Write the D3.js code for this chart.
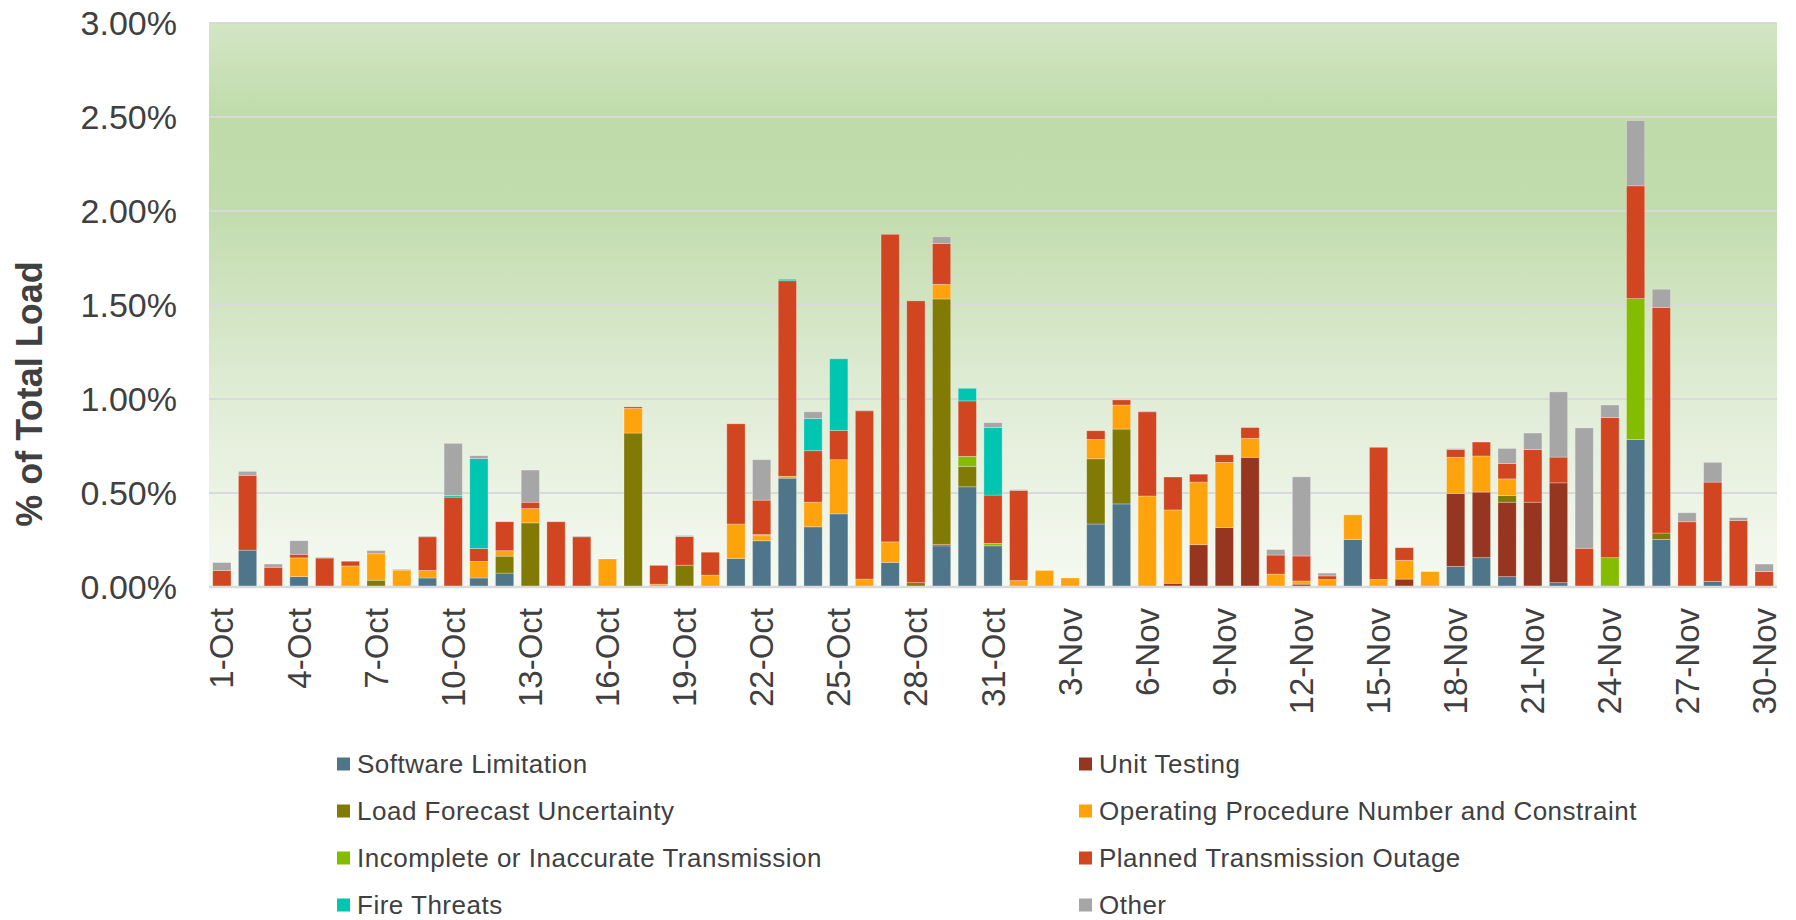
<!DOCTYPE html>
<html>
<head>
<meta charset="utf-8">
<script src="https://cdn.jsdelivr.net/npm/d3@7"></script>
<style>
  body { margin: 0; background: #fff; }
  text { font-family: "Liberation Sans", Arial, sans-serif; fill: #404040; }
</style>
</head>
<body>
<svg id="chart"></svg>
<script>
// day labels, 1-Oct .. 30-Nov
const days = [];
for (let i = 1; i <= 31; i++) days.push(i + "-Oct");
for (let i = 1; i <= 30; i++) days.push(i + "-Nov");

const seriesNames = [
  "Software Limitation", "Unit Testing", "Load Forecast Uncertainty",
  "Operating Procedure Number and Constraint", "Incomplete or Inaccurate Transmission",
  "Planned Transmission Outage", "Fire Threats", "Other"
];
const seriesColors = ["#4e7589", "#973620", "#817a05", "#ffa30d", "#84bc00", "#d14520", "#00c6b1", "#a6a6a6"];

// values in % of total load, one per day
const software = [0,0.196,0,0.055,0,0,0,0,0.048,0,0.048,0.074,0,0,0,0,0,0,0,0,0.152,0.246,0.579,0.32,0.389,0,0.131,0,0.219,0.533,0.219,
  0,0,0,0.335,0.442,0,0,0,0,0,0,0,0,0.253,0,0,0,0.109,0.156,0.055,0,0.023,0,0,0.785,0.253,0,0.03,0,0];
const unitTesting = [0,0,0,0,0,0,0,0,0,0,0,0,0,0,0,0,0,0,0,0,0,0,0,0,0,0,0,0,0.008,0,0,
  0,0,0,0,0,0,0.02,0.225,0.316,0.69,0,0.015,0,0,0,0.042,0,0.389,0.349,0.396,0.451,0.531,0,0,0,0,0,0,0,0];
const loadForecast = [0,0,0,0,0,0,0.036,0,0,0,0,0.09,0.341,0,0,0,0.819,0,0.116,0,0,0,0,0,0,0,0,0.023,1.305,0.109,0,
  0,0,0,0.347,0.398,0,0,0,0,0,0,0,0,0,0,0,0,0,0,0.036,0,0,0,0,0,0.034,0,0,0,0];
const opProcedure = [0,0,0,0.1,0,0.112,0.141,0.09,0.04,0,0.088,0.029,0.076,0,0,0.149,0.131,0.015,0,0.063,0.183,0.027,0.01,0.131,0.288,0.042,0.109,0,0.078,0,0,
  0.034,0.088,0.048,0.103,0.128,0.484,0.39,0.333,0.347,0.101,0.069,0.017,0.04,0.131,0.04,0.1,0.082,0.192,0.192,0.088,0,0,0,0,0,0,0,0,0,0];
const incomplete = [0,0,0,0,0,0,0,0,0,0,0,0,0,0,0,0,0,0,0,0,0,0.006,0,0,0,0,0,0,0,0.053,0.013,
  0,0,0,0,0,0,0,0,0,0,0,0,0,0,0,0,0,0,0,0,0,0,0,0.156,0.749,0,0,0,0,0];
const plannedOutage = [0.088,0.398,0.105,0.019,0.154,0.025,0,0,0.179,0.478,0.069,0.154,0.034,0.347,0.267,0,0.008,0.1,0.152,0.122,0.533,0.183,1.04,0.274,0.156,0.895,1.636,1.499,0.217,0.295,0.257,
  0.48,0,0,0.046,0.027,0.448,0.175,0.042,0.04,0.057,0.101,0.133,0.019,0,0.703,0.067,0,0.042,0.074,0.082,0.28,0.137,0.206,0.745,0.6,1.2,0.347,0.528,0.354,0.082];
const fireThreats = [0,0,0,0,0,0,0,0,0,0.008,0.478,0,0,0,0,0,0,0,0,0,0,0,0.008,0.171,0.381,0,0,0,0,0.067,0.36,
  0,0,0,0,0,0,0,0,0,0,0,0,0,0,0,0,0,0,0,0,0,0,0,0,0,0,0,0,0,0];
const other = [0.042,0.021,0.017,0.072,0.004,0,0.017,0.004,0.004,0.278,0.015,0,0.171,0,0.004,0,0,0,0.006,0,0,0.215,0,0.036,0,0.004,0,0,0.036,0,0.025,
  0.004,0,0,0,0,0.004,0,0,0,0,0.029,0.421,0.015,0,0,0,0,0.004,0,0.08,0.088,0.347,0.64,0.067,0.347,0.097,0.048,0.105,0.015,0.04];

const yTicks = [0, 0.5, 1, 1.5, 2, 2.5, 3];

const allSeries = [software, unitTesting, loadForecast, opProcedure, incomplete, plannedOutage, fireThreats, other];
const table = days.map((d, i) => {
  const row = { day: d };
  seriesNames.forEach((s, k) => row[s] = allSeries[k][i]);
  return row;
});

const W = 1796, H = 920;
const margin = { top: 23, right: 19, bottom: 333, left: 209 };
const iw = W - margin.left - margin.right, ih = H - margin.top - margin.bottom;

const svg = d3.select("#chart").attr("width", W).attr("height", H);

const defs = svg.append("defs");
const grad = defs.append("linearGradient").attr("id", "bg").attr("x1", 0).attr("x2", 0).attr("y1", 0).attr("y2", 1);
[[0, "#d3e6c5"], [0.17, "#bfdba9"], [0.33, "#c2dcad"], [0.65, "#dfecd5"], [1, "#f6faf2"]]
  .forEach(s => grad.append("stop").attr("offset", s[0]).attr("stop-color", s[1]));

const g = svg.append("g").attr("transform", `translate(${margin.left},${margin.top})`);

const x = d3.scaleBand().domain(days).range([0, iw]).paddingInner(0.29).paddingOuter(0.145);
const y = d3.scaleLinear().domain([0, 3]).range([ih, 0]);

g.append("rect").attr("width", iw).attr("height", ih).attr("fill", "url(#bg)");

// gridlines
g.selectAll(".grid").data(yTicks).join("line")
  .attr("x1", 0).attr("x2", iw)
  .attr("y1", d => y(d)).attr("y2", d => y(d))
  .attr("stroke", "#d9d9d9").attr("stroke-width", 2);

// stacked bars
const stack = d3.stack().keys(seriesNames)(table);
g.selectAll(".layer").data(stack).join("g")
  .attr("fill", (d, i) => seriesColors[i])
  .selectAll("rect").data(d => d).join("rect")
  .attr("x", d => x(d.data.day))
  .attr("width", x.bandwidth())
  .attr("y", d => y(d[1]))
  .attr("height", d => Math.max(0, y(d[0]) - y(d[1])))
  .attr("stroke", "rgba(255,255,255,0.35)").attr("stroke-width", 0.8);

// axis line
g.append("line").attr("x1", 0).attr("x2", iw).attr("y1", ih).attr("y2", ih)
  .attr("stroke", "#d9d9d9").attr("stroke-width", 2.5);

// y labels
const fmt = d3.format(".2f");
g.selectAll(".ylab").data(yTicks).join("text")
  .attr("x", -32).attr("y", d => y(d)).attr("dy", "0.35em")
  .attr("text-anchor", "end").style("font-size", "34px")
  .text(d => fmt(d) + "%");

// x labels, every third day
g.selectAll(".xlab").data(days.filter((d, i) => i % 3 === 0)).join("text")
  .attr("transform", d => `translate(${x(d) + x.bandwidth() / 2},${ih + 21}) rotate(-90)`)
  .attr("dy", "0.35em").attr("text-anchor", "end").style("font-size", "33px")
  .text(d => d);

// y title
svg.append("text")
  .attr("transform", "translate(29,394) rotate(-90)")
  .attr("dy", "0.35em").attr("text-anchor", "middle")
  .style("font-size", "36px").style("font-weight", "bold")
  .text("% of Total Load");

// legend, two columns
const legend = svg.append("g");
const items = legend.selectAll("g").data(seriesNames).join("g")
  .attr("transform", (d, i) => `translate(${i % 2 === 0 ? 337 : 1079},${764 + Math.floor(i / 2) * 47})`);
items.append("rect").attr("x", 0).attr("y", -6.5).attr("width", 13).attr("height", 13)
  .attr("fill", (d, i) => seriesColors[i]);
items.append("text").attr("x", 20).attr("dy", "0.35em")
  .style("font-size", "26px").style("letter-spacing", "0.5px").text(d => d);
</script>
</body>
</html>
